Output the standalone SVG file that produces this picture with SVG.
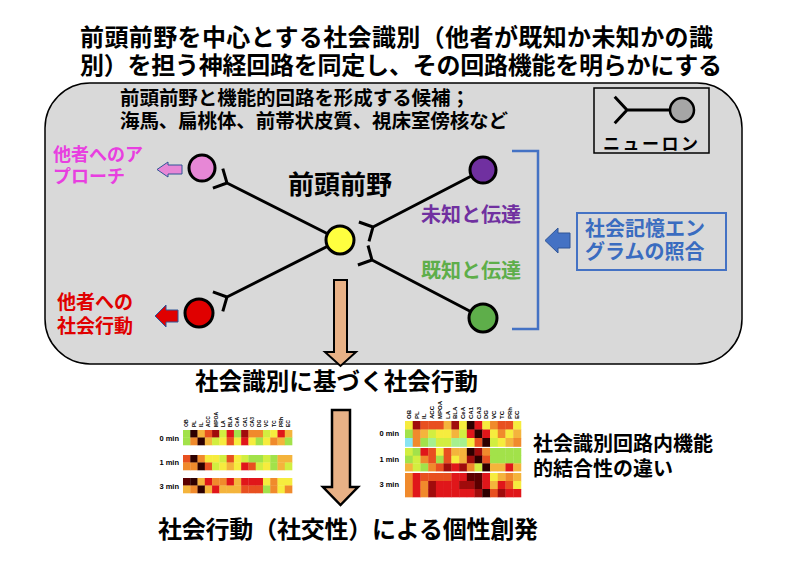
<svg xmlns="http://www.w3.org/2000/svg" width="800" height="565" viewBox="0 0 800 565">
<style>
.j{font-family:"Noto Sans CJK JP","Noto Sans CJK SC",sans-serif;font-weight:bold}
.ln{fill:none;stroke:#000;stroke-width:3;stroke-linecap:butt}
.soma{stroke:#000;stroke-width:3}
.lab{font-family:"Liberation Sans",Arial,sans-serif;font-weight:bold;fill:#000}
.hm rect{width:1.04px;height:1.04px}
.K{fill:#2d0000}.N{fill:#5c0000}.D{fill:#a00c0c}.R{fill:#e0161a}.E{fill:#e85020}.O{fill:#f08a2c}.A{fill:#f4b43c}.Y{fill:#f6ec3e}.L{fill:#d2ee40}.G{fill:#a2e24a}.M{fill:#a6f08e}.C{fill:#88e4f2}
</style>
<rect width="800" height="565" fill="#fff"/>
<g id="title">
<text class="j" font-size="24" fill="#000"><tspan x="80" y="46" textLength="633">前頭前野を中心とする社会識別（他者が既知か未知かの識</tspan><tspan x="80" y="74" textLength="642">別）を担う神経回路を同定し、その回路機能を明らかにする</tspan></text>
</g>
<g id="panel">
<rect x="45" y="83" width="697" height="281" rx="45" ry="45" fill="#d9d9d9" stroke="#000" stroke-width="1.5"/>
<text class="j" font-size="19.5" fill="#000"><tspan x="120" y="105" textLength="350">前頭前野と機能的回路を形成する候補；</tspan><tspan x="120" y="128" textLength="388">海馬、扁桃体、前帯状皮質、視床室傍核など</tspan></text>
</g>
<g id="legend">
<rect x="594" y="88" width="115" height="65" fill="#d9d9d9" stroke="#000" stroke-width="1.5"/>
<path class="ln" d="M614.7,96.8 L627,110 L614.7,123.2 M627,110 H670" stroke-width="2.5"/>
<circle cx="682" cy="110" r="12" fill="#a6a6a6" stroke="#000" stroke-width="2.5"/>
<text class="j" x="603" y="150" font-size="17" textLength="95" lengthAdjust="spacing">ニューロン</text>
</g>
<g id="connectors">
<path class="ln" d="M340,240 L227,183 M222.8,168.6 L227,183 L212.9,188.2"/>
<path class="ln" d="M340,240 L227,297 M212.9,291.8 L227,297 L222.8,311.4"/>
<path class="ln" d="M483,170 L373,227 M358.9,222 L373,227 L369,241.4"/>
<path class="ln" d="M483,318 L372,260 M368,245.5 L372,260 L357.9,265"/>
<path d="M157,169.5 L168,162 L168,165 L182,165 L182,174 L168,174 L168,177 Z" fill="#e787d6" stroke="#2f5597" stroke-width="1"/>
<path d="M155,316 L166,305 L166,310 L178,310 L178,322 L166,322 L166,327 Z" fill="#e00000" stroke="#2f5597" stroke-width="1"/>
<path d="M545,240.5 L558,228 L558,233 L570,233 L570,248 L558,248 L558,253 Z" fill="#4472c4" stroke="#2f5597" stroke-width="1"/>
<path d="M512,151 H538 V329 H512" fill="none" stroke="#4472c4" stroke-width="2.5"/>
<path d="M334,280 H347 V352 H356 L340.5,366 L325,352 H334 Z" fill="#e8b186" stroke="#000" stroke-width="2"/>
<path d="M332,410 H350 V487 H358 L340.5,505 L323,487 H332 Z" fill="#e8b186" stroke="#000" stroke-width="2.5"/>
</g>
<g id="node-pink">
<circle class="soma" cx="202" cy="168" r="13" fill="#e787d6"/>
<text class="j" font-size="18" fill="#e83fe0"><tspan x="53" y="161">他者へのア</tspan><tspan x="53" y="183">プローチ</tspan></text>
</g>
<g id="node-red">
<circle class="soma" cx="199" cy="313" r="14" fill="#e00000"/>
<text class="j" font-size="19" fill="#e00000"><tspan x="57" y="309">他者への</tspan><tspan x="57" y="333">社会行動</tspan></text>
</g>
<g id="node-yellow">
<circle class="soma" cx="340" cy="240" r="14" fill="#ffff3f"/>
<text class="j" x="340" y="194" font-size="26" text-anchor="middle" fill="#000">前頭前野</text>
</g>
<g id="node-purple">
<circle class="soma" cx="483" cy="170" r="13" fill="#7030a0"/>
<text class="j" x="421" y="222" font-size="20" fill="#7030a0">未知と伝達</text>
</g>
<g id="node-green">
<circle class="soma" cx="483" cy="318" r="14" fill="#5eae4a"/>
<text class="j" x="421" y="278" font-size="20" fill="#5eae4a">既知と伝達</text>
</g>
<g id="engram">
<rect x="577" y="213" width="149" height="57" fill="none" stroke="#4472c4" stroke-width="2"/>
<text class="j" font-size="20" fill="#3a6cc0"><tspan x="585" y="236">社会記憶エン</tspan><tspan x="585" y="259">グラムの照合</tspan></text>
</g>
<g id="behavior">
<text class="j" x="195" y="390" font-size="23.5" textLength="283" fill="#000">社会識別に基づく社会行動</text>
</g>
<g id="personality">
<text class="j" x="158" y="538" font-size="24" textLength="380" fill="#000">社会行動（社交性）による個性創発</text>
</g>
<g id="fc-label">
<text class="j" font-size="20" fill="#000"><tspan x="533" y="451">社会識別回路内機能</tspan><tspan x="533" y="476">的結合性の違い</tspan></text>
</g>
<g id="heatmap-left">
<g class="lab" font-size="5">
<text transform="translate(188.4,427) rotate(-90)">OB</text>
<text transform="translate(195.7,427) rotate(-90)">PL</text>
<text transform="translate(202.9,427) rotate(-90)">IL</text>
<text transform="translate(210.2,427) rotate(-90)">ACC</text>
<text transform="translate(217.5,427) rotate(-90)">MPOA</text>
<text transform="translate(224.8,427) rotate(-90)">LA</text>
<text transform="translate(232,427) rotate(-90)">BLA</text>
<text transform="translate(239.3,427) rotate(-90)">CeA</text>
<text transform="translate(246.6,427) rotate(-90)">CA1</text>
<text transform="translate(253.8,427) rotate(-90)">CA3</text>
<text transform="translate(261.1,427) rotate(-90)">DG</text>
<text transform="translate(268.4,427) rotate(-90)">VC</text>
<text transform="translate(275.6,427) rotate(-90)">TC</text>
<text transform="translate(282.9,427) rotate(-90)">PRh</text>
<text transform="translate(290.2,427) rotate(-90)">EC</text>
</g>
<g class="lab" font-size="7.5" text-anchor="end">
<text x="179" y="441">0 min</text><text x="179" y="465">1 min</text><text x="179" y="489">3 min</text>
</g>
<g class="hm" transform="translate(183,430) scale(7.27,7.5)">
<rect x="0" y="0" class="G"/><rect x="1" y="0" class="K"/><rect x="2" y="0" class="A"/><rect x="3" y="0" class="E"/><rect x="4" y="0" class="D"/><rect x="5" y="0" class="L"/><rect x="6" y="0" class="R"/><rect x="7" y="0" class="G"/><rect x="8" y="0" class="D"/><rect x="9" y="0" class="O"/><rect x="10" y="0" class="O"/><rect x="11" y="0" class="L"/><rect x="12" y="0" class="Y"/><rect x="13" y="0" class="R"/><rect x="14" y="0" class="A"/>
<rect x="0" y="1" class="G"/><rect x="1" y="1" class="O"/><rect x="2" y="1" class="K"/><rect x="3" y="1" class="A"/><rect x="4" y="1" class="L"/><rect x="5" y="1" class="Y"/><rect x="6" y="1" class="E"/><rect x="7" y="1" class="Y"/><rect x="8" y="1" class="R"/><rect x="9" y="1" class="Y"/><rect x="10" y="1" class="G"/><rect x="11" y="1" class="Y"/><rect x="12" y="1" class="O"/><rect x="13" y="1" class="A"/><rect x="14" y="1" class="G"/>
</g>
<g class="hm" transform="translate(183,455) scale(7.27,7.5)">
<rect x="0" y="0" class="E"/><rect x="1" y="0" class="K"/><rect x="2" y="0" class="O"/><rect x="3" y="0" class="Y"/><rect x="4" y="0" class="Y"/><rect x="5" y="0" class="L"/><rect x="6" y="0" class="E"/><rect x="7" y="0" class="Y"/><rect x="8" y="0" class="L"/><rect x="9" y="0" class="G"/><rect x="10" y="0" class="G"/><rect x="11" y="0" class="L"/><rect x="12" y="0" class="G"/><rect x="13" y="0" class="A"/><rect x="14" y="0" class="A"/>
<rect x="0" y="1" class="O"/><rect x="1" y="1" class="O"/><rect x="2" y="1" class="K"/><rect x="3" y="1" class="E"/><rect x="4" y="1" class="L"/><rect x="5" y="1" class="Y"/><rect x="6" y="1" class="A"/><rect x="7" y="1" class="Y"/><rect x="8" y="1" class="R"/><rect x="9" y="1" class="E"/><rect x="10" y="1" class="L"/><rect x="11" y="1" class="Y"/><rect x="12" y="1" class="G"/><rect x="13" y="1" class="A"/><rect x="14" y="1" class="L"/>
</g>
<g class="hm" transform="translate(183,478) scale(7.27,7.5)">
<rect x="0" y="0" class="N"/><rect x="1" y="0" class="K"/><rect x="2" y="0" class="A"/><rect x="3" y="0" class="R"/><rect x="4" y="0" class="O"/><rect x="5" y="0" class="O"/><rect x="6" y="0" class="R"/><rect x="7" y="0" class="A"/><rect x="8" y="0" class="R"/><rect x="9" y="0" class="R"/><rect x="10" y="0" class="R"/><rect x="11" y="0" class="Y"/><rect x="12" y="0" class="O"/><rect x="13" y="0" class="Y"/><rect x="14" y="0" class="Y"/>
<rect x="0" y="1" class="A"/><rect x="1" y="1" class="O"/><rect x="2" y="1" class="K"/><rect x="3" y="1" class="A"/><rect x="4" y="1" class="R"/><rect x="5" y="1" class="A"/><rect x="6" y="1" class="A"/><rect x="7" y="1" class="A"/><rect x="8" y="1" class="E"/><rect x="9" y="1" class="E"/><rect x="10" y="1" class="E"/><rect x="11" y="1" class="G"/><rect x="12" y="1" class="O"/><rect x="13" y="1" class="Y"/><rect x="14" y="1" class="O"/>
</g>
</g>
<g id="heatmap-right">
<g class="lab" font-size="6">
<text transform="translate(411,419) rotate(-90)">OB</text>
<text transform="translate(418.7,419) rotate(-90)">PL</text>
<text transform="translate(426.4,419) rotate(-90)">IL</text>
<text transform="translate(434.2,419) rotate(-90)">ACC</text>
<text transform="translate(441.9,419) rotate(-90)">MPOA</text>
<text transform="translate(449.6,419) rotate(-90)">LA</text>
<text transform="translate(457.4,419) rotate(-90)">BLA</text>
<text transform="translate(465.1,419) rotate(-90)">CeA</text>
<text transform="translate(472.8,419) rotate(-90)">CA1</text>
<text transform="translate(480.6,419) rotate(-90)">CA3</text>
<text transform="translate(488.3,419) rotate(-90)">DG</text>
<text transform="translate(496,419) rotate(-90)">VC</text>
<text transform="translate(503.8,419) rotate(-90)">TC</text>
<text transform="translate(511.5,419) rotate(-90)">PRh</text>
<text transform="translate(519.2,419) rotate(-90)">EC</text>
</g>
<g class="lab" font-size="7.5" text-anchor="end">
<text x="399" y="436">0 min</text><text x="399" y="462">1 min</text><text x="399" y="487">3 min</text>
</g>
<g class="hm" transform="translate(405,421) scale(7.73,8.5)">
<rect x="0" y="0" class="Y"/><rect x="1" y="0" class="D"/><rect x="2" y="0" class="E"/><rect x="3" y="0" class="E"/><rect x="4" y="0" class="E"/><rect x="5" y="0" class="A"/><rect x="6" y="0" class="D"/><rect x="7" y="0" class="Y"/><rect x="8" y="0" class="K"/><rect x="9" y="0" class="R"/><rect x="10" y="0" class="Y"/><rect x="11" y="0" class="O"/><rect x="12" y="0" class="E"/><rect x="13" y="0" class="E"/><rect x="14" y="0" class="Y"/>
<rect x="0" y="1" class="G"/><rect x="1" y="1" class="O"/><rect x="2" y="1" class="A"/><rect x="3" y="1" class="L"/><rect x="4" y="1" class="Y"/><rect x="5" y="1" class="Y"/><rect x="6" y="1" class="A"/><rect x="7" y="1" class="L"/><rect x="8" y="1" class="R"/><rect x="9" y="1" class="K"/><rect x="10" y="1" class="R"/><rect x="11" y="1" class="Y"/><rect x="12" y="1" class="O"/><rect x="13" y="1" class="Y"/><rect x="14" y="1" class="A"/>
<rect x="0" y="2" class="C"/><rect x="1" y="2" class="O"/><rect x="2" y="2" class="G"/><rect x="3" y="2" class="M"/><rect x="4" y="2" class="L"/><rect x="5" y="2" class="L"/><rect x="6" y="2" class="M"/><rect x="7" y="2" class="M"/><rect x="8" y="2" class="Y"/><rect x="9" y="2" class="E"/><rect x="10" y="2" class="K"/><rect x="11" y="2" class="L"/><rect x="12" y="2" class="Y"/><rect x="13" y="2" class="A"/><rect x="14" y="2" class="O"/>
</g>
<g class="hm" transform="translate(405,448) scale(7.73,7.7)">
<rect x="0" y="0" class="L"/><rect x="1" y="0" class="G"/><rect x="2" y="0" class="R"/><rect x="3" y="0" class="E"/><rect x="4" y="0" class="Y"/><rect x="5" y="0" class="E"/><rect x="6" y="0" class="A"/><rect x="7" y="0" class="A"/><rect x="8" y="0" class="K"/><rect x="9" y="0" class="D"/><rect x="10" y="0" class="O"/><rect x="11" y="0" class="G"/><rect x="12" y="0" class="G"/><rect x="13" y="0" class="G"/><rect x="14" y="0" class="G"/>
<rect x="0" y="1" class="G"/><rect x="1" y="1" class="L"/><rect x="2" y="1" class="O"/><rect x="3" y="1" class="E"/><rect x="4" y="1" class="G"/><rect x="5" y="1" class="E"/><rect x="6" y="1" class="Y"/><rect x="7" y="1" class="A"/><rect x="8" y="1" class="D"/><rect x="9" y="1" class="K"/><rect x="10" y="1" class="E"/><rect x="11" y="1" class="G"/><rect x="12" y="1" class="G"/><rect x="13" y="1" class="G"/><rect x="14" y="1" class="G"/>
<rect x="0" y="2" class="A"/><rect x="1" y="2" class="L"/><rect x="2" y="2" class="G"/><rect x="3" y="2" class="O"/><rect x="4" y="2" class="E"/><rect x="5" y="2" class="D"/><rect x="6" y="2" class="R"/><rect x="7" y="2" class="D"/><rect x="8" y="2" class="O"/><rect x="9" y="2" class="L"/><rect x="10" y="2" class="K"/><rect x="11" y="2" class="A"/><rect x="12" y="2" class="A"/><rect x="13" y="2" class="R"/><rect x="14" y="2" class="A"/>
</g>
<g class="hm" transform="translate(405,473) scale(7.73,8)">
<rect x="0" y="0" class="O"/><rect x="1" y="0" class="R"/><rect x="2" y="0" class="E"/><rect x="3" y="0" class="E"/><rect x="4" y="0" class="E"/><rect x="5" y="0" class="E"/><rect x="6" y="0" class="R"/><rect x="7" y="0" class="R"/><rect x="8" y="0" class="N"/><rect x="9" y="0" class="N"/><rect x="10" y="0" class="R"/><rect x="11" y="0" class="Y"/><rect x="12" y="0" class="A"/><rect x="13" y="0" class="O"/><rect x="14" y="0" class="A"/>
<rect x="0" y="1" class="O"/><rect x="1" y="1" class="R"/><rect x="2" y="1" class="O"/><rect x="3" y="1" class="D"/><rect x="4" y="1" class="R"/><rect x="5" y="1" class="R"/><rect x="6" y="1" class="R"/><rect x="7" y="1" class="D"/><rect x="8" y="1" class="D"/><rect x="9" y="1" class="N"/><rect x="10" y="1" class="R"/><rect x="11" y="1" class="A"/><rect x="12" y="1" class="R"/><rect x="13" y="1" class="E"/><rect x="14" y="1" class="Y"/>
<rect x="0" y="2" class="O"/><rect x="1" y="2" class="R"/><rect x="2" y="2" class="O"/><rect x="3" y="2" class="D"/><rect x="4" y="2" class="R"/><rect x="5" y="2" class="R"/><rect x="6" y="2" class="R"/><rect x="7" y="2" class="R"/><rect x="8" y="2" class="R"/><rect x="9" y="2" class="D"/><rect x="10" y="2" class="K"/><rect x="11" y="2" class="E"/><rect x="12" y="2" class="D"/><rect x="13" y="2" class="R"/><rect x="14" y="2" class="R"/>
</g>
</g>
</svg>
